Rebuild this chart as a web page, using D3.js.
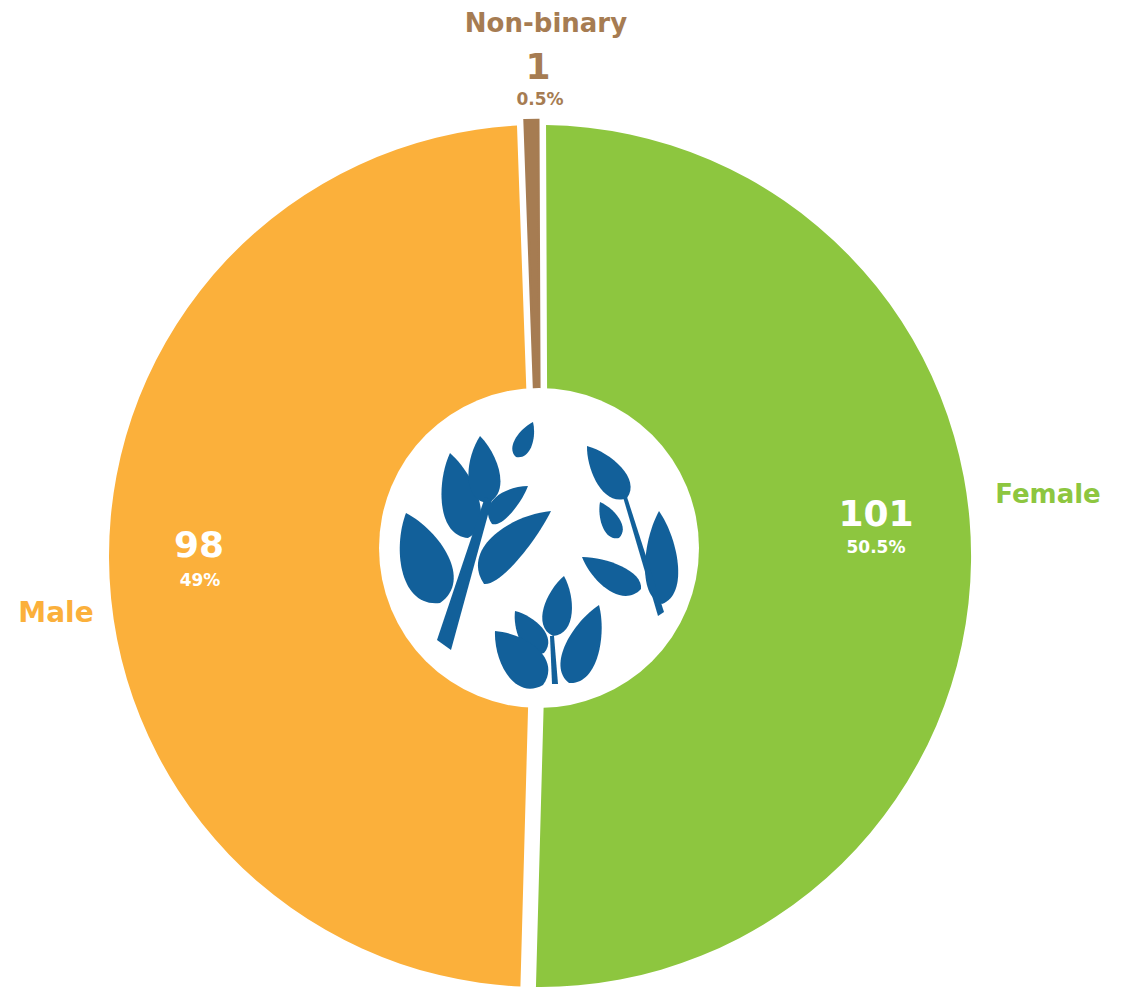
<!DOCTYPE html>
<html>
<head>
<meta charset="utf-8">
<script src="https://cdn.jsdelivr.net/npm/d3@7"></script>
<style>
  html, body { margin: 0; padding: 0; background: #ffffff; }
  svg { display: block; }
  text { font-family: "DejaVu Sans", sans-serif; font-weight: bold; }
</style>
</head>
<body>
<div id="chart"></div>
<script>
// ---- data ----
const categories = ["Female", "Male", "Non-binary"];
const counts = [101, 98, 1];
const sliceColors = ["#8DC63F", "#FBB03B", "#A67C52"];

// ---- layout ----
const W = 1128, H = 987;
const cx = 540, cy = 556, R = 431;
const hole = { x: 539, y: 548, r: 160 };
const blue = "#12609A";

const total = d3.sum(counts);
const fmtPct = v => d3.format(".1~f")(v / total * 100) + "%";
const data = categories.map((c, i) => ({ name: c, count: counts[i] }));
const color = d3.scaleOrdinal().domain(categories).range(sliceColors);

const svg = d3.select("#chart").append("svg")
  .attr("width", W).attr("height", H);

const pie = d3.pie().value(d => d.count).sort(null)
  .startAngle(-0.004).endAngle(2 * Math.PI - 0.004);

const small = d => d.data.count / total < 0.02;
const arc = d3.arc()
  .innerRadius(140)
  .outerRadius(d => small(d) ? R + 5 : R)
  .padRadius(R)
  .padAngle(d => small(d) ? 0 : 0.036);

const g = svg.append("g").attr("transform", `translate(${cx},${cy})`);
const arcs = pie(data);

g.selectAll("path.slice").data(arcs).join("path")
  .attr("class", "slice")
  .attr("d", arc)
  .attr("fill", d => color(d.data.name))
  .attr("stroke", d => small(d) ? color(d.data.name) : "none")
  .attr("stroke-width", d => small(d) ? 2.5 : 0);

// center white disc
svg.append("circle").attr("cx", hole.x).attr("cy", hole.y).attr("r", hole.r)
  .attr("fill", "#ffffff");

// ---- leaf logo ----
function leafPath(b, t, wl, wr) {
  const dx = t[0] - b[0], dy = t[1] - b[1], L = Math.hypot(dx, dy);
  const nx = -dy / L, ny = dx / L;
  const p = (f, w) => [(b[0] + dx * f + nx * w).toFixed(1), (b[1] + dy * f + ny * w).toFixed(1)];
  return `M${b}C${p(0.1, wl * 1.15)} ${p(0.7, wl * 0.75)} ${t}C${p(0.7, -wr * 0.75)} ${p(0.1, -wr * 1.15)} ${b}Z`;
}
const leaves = [
  [[440, 603], [406, 513], 34, 34],
  [[468, 538], [450, 453], 26, 26],
  [[487, 503], [480, 436], 22, 22],
  [[492, 524], [528, 486], 9, 22],
  [[484, 584], [551, 511], 12, 36],
  [[516, 457], [533, 422], 13, 12],
  [[627, 498], [587, 446], 20, 21],
  [[619, 538], [600, 502], 13, 13],
  [[641, 589], [582, 557], 15, 23],
  [[662, 604], [659, 511], 24, 22],
  [[553, 636], [564, 576], 20, 20],
  [[544, 653], [515, 611], 18, 18],
  [[543, 685], [495, 631], 28, 28],
  [[569, 683], [599, 605], 24, 24]
];
const logo = svg.append("g").attr("fill", blue);
logo.selectAll("path.leaf").data(leaves).join("path")
  .attr("class", "leaf")
  .attr("d", d => leafPath(d[0], d[1], d[2], d[3]));
const stems = [
  [[437, 640], [451, 650], [492, 500], [485, 497]],
  [[623, 497], [627, 497], [664, 612], [658, 616]],
  [[550, 636], [554, 636], [558, 684], [552, 684]]
];
logo.selectAll("path.stem").data(stems).join("path")
  .attr("class", "stem")
  .attr("d", d => "M" + d.join("L") + "Z");

// ---- labels ----
const place = {
  "Female":     { name: [508, -53, 26], val: [336, -30], pct: [336, -3], valFill: "#fff" },
  "Male":       { name: [-484, 66, 28], val: [-341, 1],  pct: [-340, 30], valFill: "#fff" },
  "Non-binary": { name: [6, -524, 26],  val: [-2, -477], pct: [0, -451], valFill: null }
};
const lab = svg.append("g").attr("text-anchor", "middle");
arcs.forEach(d => {
  const p = place[d.data.name];
  const c = color(d.data.name);
  lab.append("text").attr("x", cx + p.name[0]).attr("y", cy + p.name[1])
    .attr("font-size", p.name[2]).attr("fill", c).text(d.data.name);
  lab.append("text").attr("x", cx + p.val[0]).attr("y", cy + p.val[1])
    .attr("font-size", 36).attr("fill", p.valFill || c).text(d.data.count);
  lab.append("text").attr("x", cx + p.pct[0]).attr("y", cy + p.pct[1])
    .attr("font-size", 17).attr("fill", p.valFill || c).text(fmtPct(d.data.count));
});
</script>
</body>
</html>
